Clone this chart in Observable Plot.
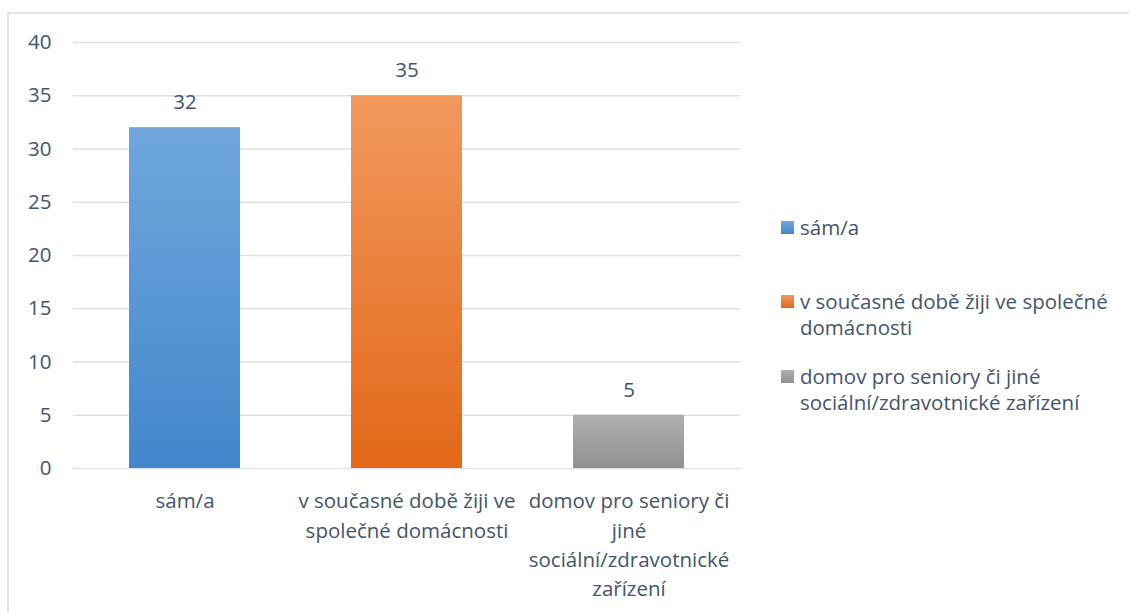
<!DOCTYPE html>
<html><head><meta charset="utf-8">
<script src="https://cdn.jsdelivr.net/npm/d3@7"></script>
<script src="https://cdn.jsdelivr.net/npm/@observablehq/plot@0.6"></script>
<style>
html,body{margin:0;padding:0;background:#fff;overflow:hidden;}
#wrap{position:relative;width:1129px;height:613px;font-family:"Open Sans",sans-serif;color:#44546a;overflow:hidden;}
#frame{position:absolute;left:7px;top:12px;width:1300px;height:800px;border:2px solid #e1e5ea;box-sizing:border-box;}
#chart{position:absolute;left:0;top:0;}
.item{position:absolute;left:781px;font-size:20.5px;line-height:25.5px;white-space:pre-line;}
.sw{position:absolute;left:0;top:6px;width:13px;height:13px;}
.lt{position:absolute;left:19px;top:0;width:340px;}
</style>
</head><body>
<div id="wrap"><div id="frame"></div><div id="chart"></div></div>
<script>
// ---- data ----
const categories = ["sám/a", "v současné době žiji ve společné domácnosti", "domov pro seniory či jiné sociální/zdravotnické zařízení"];
const values = [32, 35, 5];
const tickLabels = ["sám/a", "v současné době žiji ve\nspolečné domácnosti", "domov pro seniory či\njiné\nsociální/zdravotnické\nzařízení"];
const legendLabels = ["sám/a", "v současné době žiji ve společné\ndomácnosti", "domov pro seniory či jiné\nsociální/zdravotnické zařízení"];
const yTicks = [0, 5, 10, 15, 20, 25, 30, 35, 40];

// ---- styles ----
const gradients = [["#70a7dc", "#4287cc"], ["#f2995f", "#e36818"], ["#b0b0b0", "#909090"]];
const textColor = "#44546a";
const legendTops = [215, 289, 364];
const fs = 20.5;

const table = categories.map((c, i) => ({category: c, value: values[i], idx: i}));

function gradientDefs() {
  const ns = "http://www.w3.org/2000/svg";
  const defs = document.createElementNS(ns, "defs");
  gradients.forEach(([a, b], i) => {
    const g = document.createElementNS(ns, "linearGradient");
    g.setAttribute("id", "grad" + i);
    g.setAttribute("x1", "0"); g.setAttribute("y1", "0");
    g.setAttribute("x2", "0"); g.setAttribute("y2", "1");
    [[0, a], [1, b]].forEach(([o, c]) => {
      const s = document.createElementNS(ns, "stop");
      s.setAttribute("offset", o);
      s.setAttribute("stop-color", c);
      g.appendChild(s);
    });
    defs.appendChild(g);
  });
  return defs;
}

const chart = Plot.plot({
  width: 1129,
  height: 613,
  marginLeft: 73,
  marginRight: 389,
  marginTop: 42,
  marginBottom: 145,
  style: {color: textColor, fontFamily: "'Open Sans', sans-serif", fontSize: fs + "px", background: "transparent"},
  x: {domain: categories, paddingInner: 0.5, paddingOuter: 0.25, label: null},
  y: {domain: [0, 40], label: null},
  color: {type: "identity"},
  marks: [
    gradientDefs,
    Plot.gridY(yTicks, {stroke: "#dde2e8", strokeOpacity: 1, strokeWidth: 1.5}),
    Plot.barY(table, {x: "category", y: "value", fill: d => `url(#grad${d.idx})`}),
    Plot.text(table, {x: "category", y: "value", text: d => String(d.value), dy: -25, fontSize: fs, fill: textColor}),
    Plot.axisY(yTicks, {tickSize: 0, tickPadding: 22, fontSize: fs, fill: textColor, label: null}),
    Plot.axisX({tickSize: 0, tickPadding: 19, fontSize: fs, fill: textColor, lineHeight: 1.43, label: null,
      tickFormat: d => tickLabels[categories.indexOf(d)]})
  ]
});
document.getElementById("chart").appendChild(chart);

const wrap = document.getElementById("wrap");
legendLabels.forEach((lab, i) => {
  const it = document.createElement("div");
  it.className = "item";
  it.style.top = legendTops[i] + "px";
  const sw = document.createElement("div");
  sw.className = "sw";
  sw.style.background = `linear-gradient(${gradients[i][0]}, ${gradients[i][1]})`;
  const t = document.createElement("div");
  t.className = "lt";
  t.textContent = lab;
  it.appendChild(sw); it.appendChild(t);
  wrap.appendChild(it);
});
</script>
</body></html>
